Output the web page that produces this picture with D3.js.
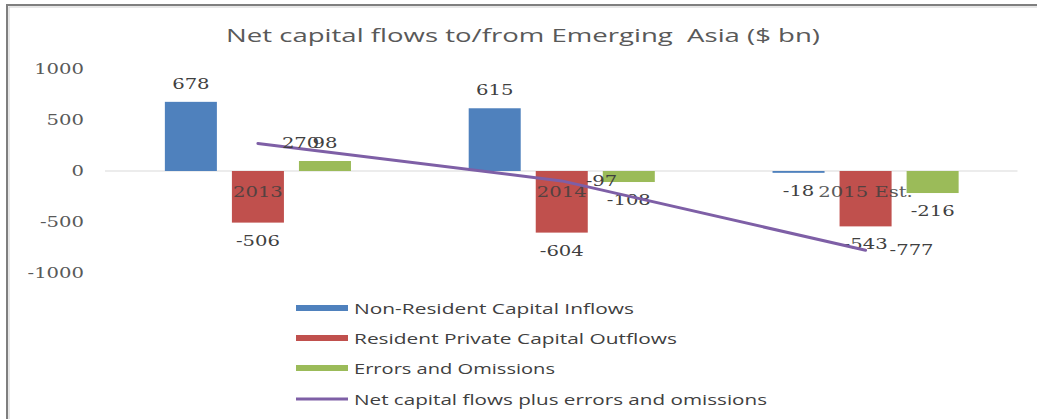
<!DOCTYPE html>
<html>
<head>
<meta charset="utf-8">
<script src="https://cdn.jsdelivr.net/npm/d3@7"></script>
<style>
  html, body { margin: 0; padding: 0; background: #ffffff; }
  svg { display: block; }
  text { white-space: pre; }
</style>
</head>
<body>
<svg id="chart" width="1037" height="419"></svg>
<script>
// ---- data ----
const categories = ["2013", "2014", "2015 Est."];
const nonResidentInflows = [678, 615, -18];
const residentOutflows = [-506, -604, -543];
const errorsOmissions = [98, -108, -216];
const netFlows = [270, -97, -777];
const yTicks = [-1000, -500, 0, 500, 1000];
const seriesNames = [
  "Non-Resident Capital Inflows",
  "Resident Private Capital Outflows",
  "Errors and Omissions",
  "Net capital flows plus errors and omissions"
];
const titleText = "Net capital flows to/from Emerging  Asia ($ bn)";

// ---- styles ----
const colors = ["#4F81BD", "#C0504D", "#9BBB59", "#7E5FA6"];
const numFont = "'DejaVu Serif', serif";
const sansFont = "'Open Sans', 'Noto Sans', sans-serif";
const stretch = 1.4;

const svg = d3.select("#chart");

// border
svg.append("rect")
  .attr("x", 7).attr("y", 5).attr("width", 1060).attr("height", 440)
  .attr("fill", "#ffffff").attr("stroke", "#7f7f7f").attr("stroke-width", 2);
svg.append("rect")
  .attr("x", 9).attr("y", 7).attr("width", 1060).attr("height", 440)
  .attr("fill", "none").attr("stroke", "#d0d0d0").attr("stroke-width", 1);

// scales
const x0 = d3.scaleBand().domain(categories).range([106, 1017.5]);
const barSeries = [nonResidentInflows, residentOutflows, errorsOmissions];
const x1 = d3.scaleBand().domain([0, 1, 2]).range([0, x0.bandwidth()])
  .paddingInner(0.224).paddingOuter(0.878);
const y = d3.scaleLinear().domain([-1000, 1000]).range([273, 69]);

// helper for horizontally stretched text
function stext(g, x, yy, txt, anchor, size, fill, family) {
  return g.append("text")
    .attr("transform", `translate(${x},${yy}) scale(${stretch},1)`)
    .attr("text-anchor", anchor)
    .attr("font-family", family || numFont)
    .attr("font-size", size)
    .attr("fill", fill)
    .text(txt);
}

// title
svg.append("text")
  .attr("x", 226).attr("y", 42)
  .attr("xml:space", "preserve")
  .attr("textLength", 594).attr("lengthAdjust", "spacingAndGlyphs")
  .attr("font-family", sansFont).attr("font-size", 18)
  .attr("fill", "#595959")
  .text(titleText);

// y tick labels
const yAxisG = svg.append("g");
yTicks.forEach(t => {
  stext(yAxisG, 84, y(t) + 5, String(t), "end", 14, "#595959");
});

// zero line
svg.append("line")
  .attr("x1", 105).attr("x2", 1017.5)
  .attr("y1", y(0)).attr("y2", y(0))
  .attr("stroke", "#d9d9d9").attr("stroke-width", 1);

// bars
const barsG = svg.append("g");
barSeries.forEach((vals, si) => {
  barsG.selectAll(null).data(vals.map((v, i) => ({ v, c: categories[i] })))
    .enter().append("rect")
    .attr("x", d => x0(d.c) + x1(si))
    .attr("width", x1.bandwidth())
    .attr("y", d => y(Math.max(0, d.v)))
    .attr("height", d => Math.max(1, Math.abs(y(d.v) - y(0))))
    .attr("fill", colors[si]);
});

// category labels
const catG = svg.append("g");
categories.forEach(c => {
  stext(catG, x0(c) + x0.bandwidth() / 2, y(0) + 26, c, "middle", 14, "#404040")
    .attr("opacity", 0.85);
});

// bar data labels
const lblG = svg.append("g");
barSeries.forEach((vals, si) => {
  vals.forEach((v, i) => {
    const cx = x0(categories[i]) + x1(si) + x1.bandwidth() / 2;
    const cy = v >= 0 ? y(v) - 18 : y(v) + 18;
    stext(lblG, cx, cy + 5, String(v), "middle", 14, "#404040");
  });
});

// net line
const lineGen = d3.line()
  .x((d, i) => x0(categories[i]) + x0.bandwidth() / 2)
  .y(d => y(d));
svg.append("path")
  .datum(netFlows)
  .attr("d", lineGen)
  .attr("fill", "none")
  .attr("stroke", colors[3])
  .attr("stroke-width", 3)
  .attr("stroke-linecap", "round");

// line labels
const lineLblG = svg.append("g");
netFlows.forEach((v, i) => {
  const cx = x0(categories[i]) + x0.bandwidth() / 2;
  stext(lineLblG, cx + 24, y(v) + 5, String(v), "start", 14, "#404040");
});

// legend
const legendRows = [308, 338, 368, 399];
const legendWidths = [280, 323, 201, 413];
const legG = svg.append("g");
seriesNames.forEach((name, i) => {
  if (i < 3) {
    legG.append("rect")
      .attr("x", 296).attr("y", legendRows[i] - 3)
      .attr("width", 52).attr("height", 6)
      .attr("fill", colors[i]);
  } else {
    legG.append("line")
      .attr("x1", 296).attr("x2", 348)
      .attr("y1", legendRows[i]).attr("y2", legendRows[i])
      .attr("stroke", colors[i]).attr("stroke-width", 3);
  }
  legG.append("text")
    .attr("x", 354).attr("y", legendRows[i] + 5.5)
    .attr("textLength", legendWidths[i]).attr("lengthAdjust", "spacingAndGlyphs")
    .attr("font-family", sansFont).attr("font-size", 15)
    .attr("fill", "#404040")
    .text(name);
});
</script>
</body>
</html>
